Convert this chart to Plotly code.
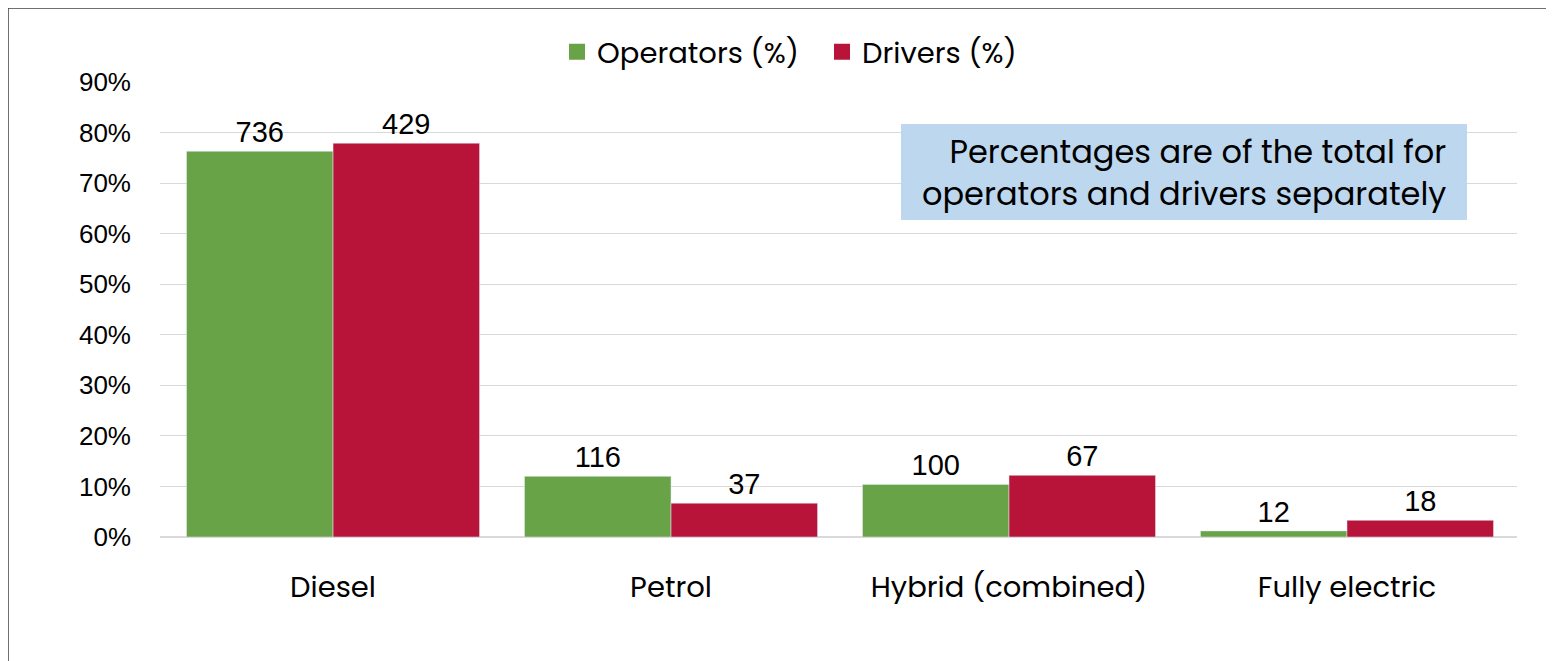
import plotly.graph_objects as go

categories = ["Diesel", "Petrol", "Hybrid (combined)", "Fully electric"]
operators_pct = [76.3, 12.0, 10.4, 1.2]
drivers_pct = [77.9, 6.7, 12.2, 3.3]
operators_n = ["736", "116", "100", "12"]
drivers_n = ["429", "37", "67", "18"]
y_ticks = [0, 10, 20, 30, 40, 50, 60, 70, 80, 90]
y_tick_text = ["0%", "10%", "20%", "30%", "40%", "50%", "60%", "70%", "80%", "90%"]

FONT = "Poppins, Open Sans, sans-serif"
NUMFONT = "Arial, Liberation Sans, sans-serif"
GREEN = "#68A348"
RED = "#B8143A"

# page geometry (browser body has an 8px margin)
OFF = 8
PAGE_W, PAGE_H = 1554, 661
PL, PR, PT, PB = 160, 1517, 82, 537  # plot area in page pixels
W, H = PAGE_W - OFF, PAGE_H - OFF
L, T = PL - OFF, PT - OFF
R, B = PAGE_W - PR, PAGE_H - PB
pw, ph = PR - PL, PB - PT


def px(xp):
    return (xp - PL) / pw


def py(yp):
    return (PB - yp) / ph


fig = go.Figure()
fig.add_trace(go.Bar(
    x=categories, y=operators_pct, name="Operators (%)", showlegend=False,
    marker=dict(color=GREEN), text=operators_n, textposition="outside",
    textfont=dict(size=29, color="#000000", family=NUMFONT), cliponaxis=False,
))
fig.add_trace(go.Bar(
    x=categories, y=drivers_pct, name="Drivers (%)", showlegend=False,
    marker=dict(color=RED), text=drivers_n, textposition="outside",
    textfont=dict(size=29, color="#000000", family=NUMFONT), cliponaxis=False,
))
# legend entries with larger square swatches
fig.add_trace(go.Scatter(x=[None], y=[None], mode="markers", name="Operators (%)",
                         marker=dict(symbol="square", size=20, color=GREEN)))
fig.add_trace(go.Scatter(x=[None], y=[None], mode="markers", name="Drivers (%)",
                         marker=dict(symbol="square", size=20, color=RED)))

fig.update_layout(
    width=W, height=H,
    margin=dict(l=L, r=R, t=T, b=B, pad=0),
    paper_bgcolor="white", plot_bgcolor="white",
    font=dict(family=FONT, size=29, color="#000000"),
    barmode="group", bargap=0.133, bargroupgap=0,
    showlegend=True,
    legend=dict(orientation="h", x=px(822), xanchor="center", y=py(52), yanchor="middle",
                font=dict(size=29, family=FONT), itemwidth=30, itemsizing="trace",
                entrywidth=220, tracegroupgap=0, bgcolor="rgba(0,0,0,0)"),
    xaxis=dict(range=[-0.512, 3.503], showgrid=False, showline=False, ticks="",
               ticklabelstandoff=30, tickfont=dict(size=29, family=FONT)),
    yaxis=dict(range=[0, 90], tickvals=y_ticks, ticktext=y_tick_text, showgrid=True,
               gridcolor="#D9D9D9", gridwidth=1, zeroline=True, zerolinecolor="#D9D9D9",
               zerolinewidth=1.5, showline=False, ticks="", ticklabelstandoff=28,
               tickfont=dict(size=26, family=NUMFONT)),
    shapes=[
        dict(type="rect", xref="paper", yref="paper", x0=px(901), x1=px(1467),
             y0=py(220), y1=py(124), fillcolor="#BDD7EE", line=dict(width=0), layer="above"),
        dict(type="line", xref="paper", yref="paper", x0=px(OFF), x1=px(OFF),
             y0=py(OFF), y1=py(PAGE_H), line=dict(color="#404040", width=1.5)),
        dict(type="line", xref="paper", yref="paper", x0=px(OFF), x1=px(PAGE_W),
             y0=py(OFF), y1=py(OFF), line=dict(color="#404040", width=1.5)),
    ],
    annotations=[
        dict(xref="paper", yref="paper", x=px(1448), y=py(172), xanchor="right", yanchor="middle",
             text="Percentages are of the total for<br>operators and drivers separately",
             align="right", showarrow=False,
             font=dict(size=32, family=FONT, color="#000000")),
    ],
)

fig.write_html("out.html")
